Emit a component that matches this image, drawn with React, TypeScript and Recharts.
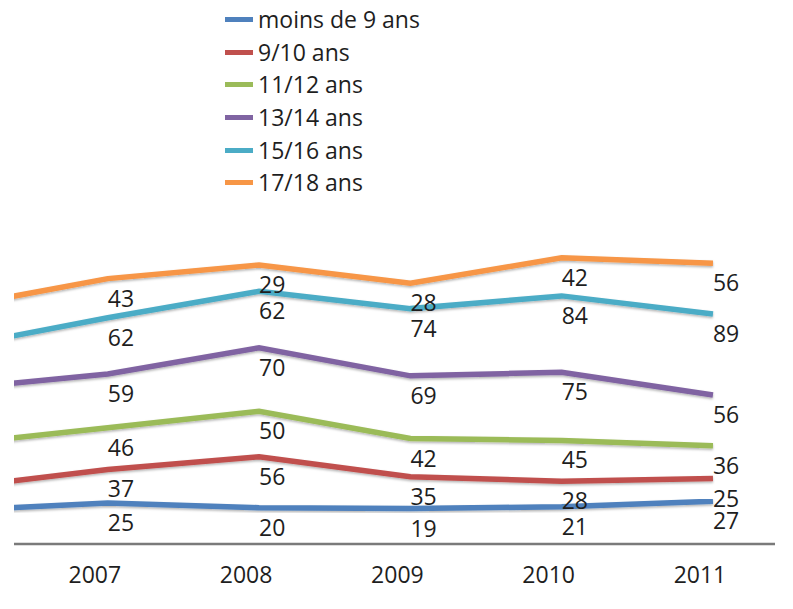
import { LineChart, Line, XAxis, YAxis, Legend, LabelList } from 'recharts';

// 2006 is cut off at the left edge of the picture: only the start of each
// line shows, so those values are estimates.
const years = [2006, 2007, 2008, 2009, 2010, 2011];
const yearTicks = [2007, 2008, 2009, 2010, 2011];

const moins9 = [17, 25, 20, 19, 21, 27];
const ans9_10 = [25, 37, 56, 35, 28, 25];
const ans11_12 = [48, 46, 50, 42, 45, 36];
const ans13_14 = [61, 59, 70, 69, 75, 56];
const ans15_16 = [46, 62, 62, 74, 84, 89];
const ans17_18 = [44, 43, 29, 28, 42, 56];

const series = [
  { key: 'moins9', name: 'moins de 9 ans', color: '#4F81BD', values: moins9 },
  { key: 'ans9_10', name: '9/10 ans', color: '#C0504D', values: ans9_10 },
  { key: 'ans11_12', name: '11/12 ans', color: '#9BBB59', values: ans11_12 },
  { key: 'ans13_14', name: '13/14 ans', color: '#8064A2', values: ans13_14 },
  { key: 'ans15_16', name: '15/16 ans', color: '#4BACC6', values: ans15_16 },
  { key: 'ans17_18', name: '17/18 ans', color: '#F79646', values: ans17_18 },
];

// stacked line chart: each line sits on top of the ones below it
const data = years.map((year, i) => {
  const row: Record<string, number> = { year };
  let total = 0;
  series.forEach((s) => {
    total += s.values[i];
    row[s.key] = s.values[i];
    row[s.key + 'Top'] = total;
  });
  return row;
});

const FONT = '"Open Sans", sans-serif';
const TEXT = '#1e1e1e';

function YearTick({ x, y, payload }: any) {
  return (
    <text x={x - 13} y={y + 39} textAnchor="middle" fontSize={23} fontFamily={FONT} fill={TEXT}>
      {payload.value}
    </text>
  );
}

function ValueLabel({ x, y, value, index }: any) {
  if (index === 0) return null;
  return (
    <text x={x} y={y + 28} fontSize={23} fontFamily={FONT} fill={TEXT}>
      {value}
    </text>
  );
}

function SeriesLegend() {
  return (
    <div>
      {series.map((s) => (
        <div key={s.key} style={{ display: 'flex', alignItems: 'center', height: 32.7 }}>
          <span style={{ width: 28, height: 5, background: s.color, display: 'inline-block' }} />
          <span style={{ marginLeft: 5, fontSize: 23, lineHeight: 1, fontFamily: FONT, color: TEXT }}>
            {s.name}
          </span>
        </div>
      ))}
    </div>
  );
}

export default function App() {
  return (
    <div style={{ position: 'absolute', left: 0, top: 0, width: 793, height: 609, background: '#fff' }}>
      <LineChart width={793} height={609} data={data} margin={{ top: 235, right: 18, bottom: 0, left: 14 }}>
        <defs>
          <filter id="lineShadow" x="-5%" y="-20%" width="110%" height="140%">
            <feDropShadow dx="0" dy="1.5" stdDeviation="0.8" floodColor="#000" floodOpacity="0.3" />
          </filter>
        </defs>
        <XAxis
          type="number"
          dataKey="year"
          domain={[2006.38, 2011.41]}
          ticks={yearTicks}
          allowDataOverflow
          height={65}
          tickLine={false}
          tickSize={0}
          tickMargin={0}
          axisLine={{ stroke: '#7a7a7a', strokeWidth: 2.5 }}
          tick={<YearTick />}
        />
        <YAxis hide type="number" domain={[-20, 320]} />
        <Legend
          layout="vertical"
          align="center"
          verticalAlign="middle"
          content={<SeriesLegend />}
          wrapperStyle={{ position: 'absolute', left: 225, top: 3, width: 260 }}
        />
        {series.map((s) => (
          <Line
            key={s.key}
            type="linear"
            dataKey={s.key + 'Top'}
            name={s.name}
            stroke={s.color}
            strokeWidth={5.5}
            filter="url(#lineShadow)"
            dot={false}
            activeDot={false}
            isAnimationActive={false}
          >
            <LabelList dataKey={s.key} content={<ValueLabel />} />
          </Line>
        ))}
      </LineChart>
    </div>
  );
}
